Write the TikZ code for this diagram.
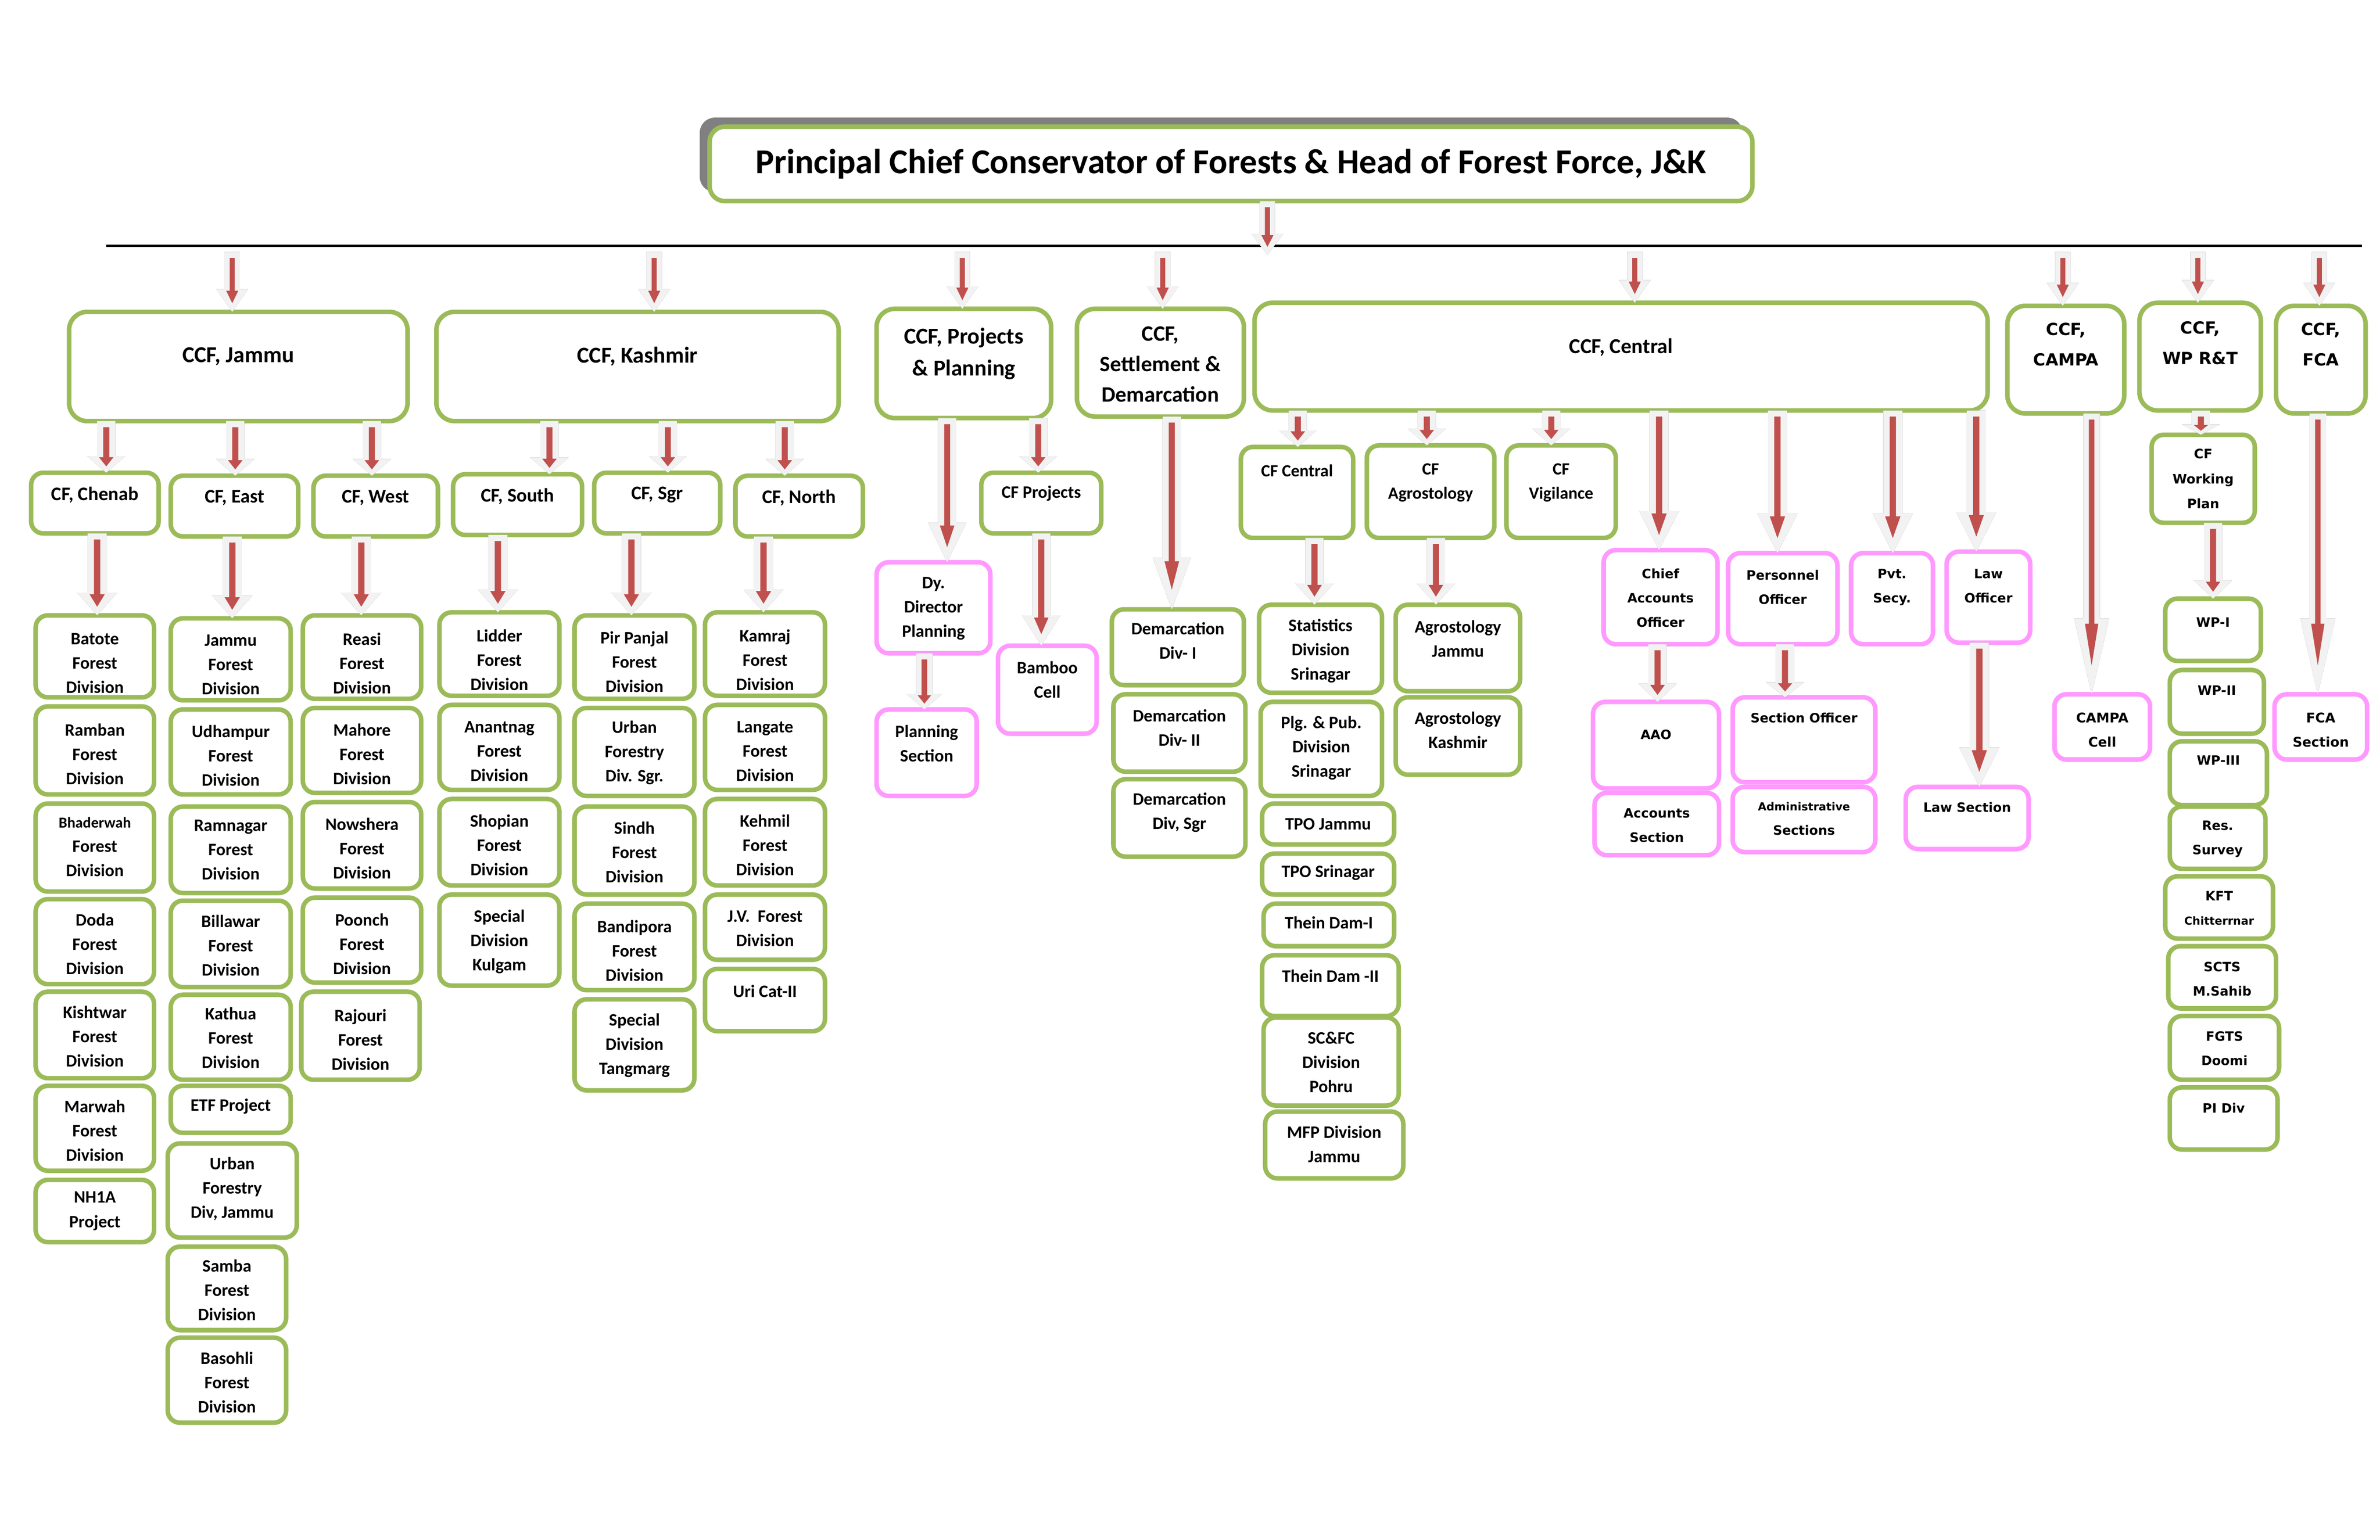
\documentclass[tikz,border=0pt]{standalone}
\usepackage{fontspec}
\setmainfont{Carlito}
\newfontfamily\vfont{DejaVu Sans}
\usetikzlibrary{calc,shadows}
\definecolor{grn}{HTML}{9BBB59}
\definecolor{pnk}{HTML}{FF99FF}
\definecolor{rdd}{HTML}{C0504D}
\definecolor{agr}{HTML}{F2F2F2}
\tikzset{
 gbx/.style={draw=grn, line width=3pt, rounded corners=8pt, fill=white, inner sep=0pt, outer sep=0pt},
 pbx/.style={gbx, draw=pnk},
 bigbx/.style={gbx, rounded corners=12pt},
 txc/.style={align=center, inner sep=0pt, font=\bfseries\fontsize{11.5}{16}\selectfont},
 txv/.style={align=center, inner sep=0pt, font=\vfont\bfseries\fontsize{8.5}{16}\selectfont},
 fs/.style 2 args={font=\bfseries\fontsize{#1}{#2}\selectfont},
 fv/.style 2 args={font=\vfont\bfseries\fontsize{#1}{#2}\selectfont},
 arsh/.style={fill=black!50},
 arbg/.style={fill=agr},
 arrd/.style={fill=rdd},
 hline/.style={line width=1.8pt, draw=black},
}
% #1 text options, #2 box style, #3 name, #4 x1, #5 y1, #6 x2, #7 y2, #8 text y, #9 text
\newcommand\Bx[9][]{%
 \node[#2, minimum width={#6-#4-3}, minimum height={#7-#5-3}] (#3) at ({(#4+#6)/2},{(#5+#7)/2}) {};%
 \node[txc,#1] (#3t) at ({(#4+#6)/2},#8) {#9};}
\newcommand\Bv[9][]{%
 \node[#2, minimum width={#6-#4-3}, minimum height={#7-#5-3}] (#3) at ({(#4+#6)/2},{(#5+#7)/2}) {};%
 \node[txv,#1] (#3t) at ({(#4+#6)/2},#8) {#9};}
% block arrow: #1 x, #2 from, #3 to, #4 shaft half width, #5 head length
\newcommand\Ar[5]{%
 \coordinate (aS) at (#2 -| #1,0);%
 \coordinate (aE) at (#3 -| #1,0);%
 \fill[arsh, xshift=1.2pt, yshift=-1.2pt] ($(aS)+(-#4,0)$) -- ($(aE)+(-#4,-#5)$) -- ($(aE)+(-2.1*#4,-#5)$) -- (aE) -- ($(aE)+(2.1*#4,-#5)$) -- ($(aE)+(#4,-#5)$) -- ($(aS)+(#4,0)$) -- cycle;%
 \fill[arbg] ($(aS)+(-#4,0)$) -- ($(aE)+(-#4,-#5)$) -- ($(aE)+(-2.1*#4,-#5)$) -- (aE) -- ($(aE)+(2.1*#4,-#5)$) -- ($(aE)+(#4,-#5)$) -- ($(aS)+(#4,0)$) -- cycle;%
 \fill[arrd] ($(aS)+(-0.33*#4,4)$) -- ($(aE)+(-0.33*#4,-0.93*#5)$) -- ($(aE)+(-0.8*#4,-0.93*#5)$) -- ($(aE)+(0,-0.38*#5)$) -- ($(aE)+(0.8*#4,-0.93*#5)$) -- ($(aE)+(0.33*#4,-0.93*#5)$) -- ($(aS)+(0.33*#4,4)$) -- cycle;%
}
\begin{document}
\begin{tikzpicture}[x=1pt,y=-1pt]
\useasboundingbox (0,0) rectangle (1568,1014.6);
% title
\node[gbx, rounded corners=10pt, minimum width=687, minimum height=49,
 general shadow={fill=gray, shadow xshift=-6.5pt, shadow yshift=6pt},
 font=\bfseries\fontsize{23}{28}\selectfont] (title) at (811,108)
 {Principal Chief Conservator of Forests \& Head of Forest Force, J\&K};
% horizontal line
\coordinate (hl) at (70,162);
\coordinate (hr) at (1556,162);
\draw[hline] (hl) -- (hr);
\coordinate (lt) at (835,168);
\coordinate (l1) at (153,166);
\coordinate (l2) at (431,166);
\coordinate (l3) at (634,166);
\coordinate (l4) at (766,166);
\coordinate (l5) at (1077,166);
\coordinate (l6) at (1359,166);
\coordinate (l7) at (1448,166);
\coordinate (l8) at (1528,166);

% level 1
\Bx[fs={15}{20}]{bigbx}{ccfj}{44}{204}{270}{279}{235}{CCF, Jammu}
\Bx[fs={15}{20}]{bigbx}{ccfk}{286}{204}{554}{279}{235}{CCF, Kashmir}
\Bx[fs={15}{21}]{bigbx}{ccfp}{576}{202}{694}{277}{233}{CCF, Projects\\\& Planning}
\Bx[fs={14.5}{20}]{bigbx}{ccfs}{708}{202}{821}{276}{240}{CCF,\\Settlement \&\\Demarcation}
\Bx[fs={14}{20}]{bigbx}{ccfc}{825}{198}{1311}{272}{229}{CCF, Central}
\Bv[fv={11}{20}]{bigbx}{ccfca}{1321}{200}{1401}{274}{227}{CCF,\\CAMPA}
\Bv[fv={11}{20}]{bigbx}{ccfw}{1408}{198}{1491}{272}{226}{CCF,\\WP R\&T}
\Bv[fv={11}{20}]{bigbx}{ccff}{1498}{200}{1560}{274}{227}{CCF,\\FCA}

% CF level
\Bx[fs={12.7}{16}]{gbx}{cfch}{19}{310}{106}{353}{326}{CF, Chenab}
\Bx[fs={12.7}{16}]{gbx}{cfe}{111}{312}{198}{355}{328}{CF, East}
\Bx[fs={12.7}{16}]{gbx}{cfw}{205}{312}{290}{355}{328}{CF, West}
\Bx[fs={12.7}{16}]{gbx}{cfs}{297}{311}{385}{354}{327}{CF, South}
\Bx[fs={12.7}{16}]{gbx}{cfsg}{390}{310}{476}{353}{326}{CF, Sgr}
\Bx[fs={12.7}{16}]{gbx}{cfn}{483}{312}{570}{355}{328}{CF, North}
\Bx{gbx}{cfp}{645}{310}{727}{353}{325}{CF Projects}
\Bx[fs={11.3}{16}]{gbx}{cfc}{816}{293}{893}{356}{310}{CF Central}
\Bx[fs={11.3}{16}]{gbx}{cfa}{899}{292}{986}{356}{318}{CF\\Agrostology}
\Bx[fs={11.3}{16}]{gbx}{cfv}{991}{292}{1066}{356}{318}{CF\\Vigilance}

% projects
\Bx{pbx}{dyd}{576}{369}{654}{432}{401}{Dy.\\Director\\Planning}
\Bx{pbx}{pls}{576}{466}{645}{526}{490}{Planning\\Section}
\Bx{pbx}{bam}{656}{424}{724}{485}{448}{Bamboo\\Cell}

% demarcation
\Bx{gbx}{dm1}{731}{400}{821}{453}{422}{Demarcation\\Div- I}
\Bx{gbx}{dm2}{732}{456}{822}{510}{479.5}{Demarcation\\Div- II}
\Bx{gbx}{dm3}{732}{512}{822}{566}{535.5}{Demarcation\\Div, Sgr}

% CF central column
\Bx{gbx}{st}{828}{397}{912}{458}{429}{Statistics\\Division\\Srinagar}
\Bx{gbx}{plg}{829}{461}{912}{526}{493}{Plg. \& Pub.\\Division\\Srinagar}
\Bx{gbx}{tpj}{830}{528}{920}{558}{543}{TPO Jammu}
\Bx{gbx}{tps}{830}{561}{920}{591}{575}{TPO Srinagar}
\Bx{gbx}{td1}{831}{594}{920}{625}{608}{Thein Dam-I}
\Bx{gbx}{td2}{830}{628}{923}{671}{643}{Thein Dam -II}
\Bx{gbx}{scf}{831}{669}{923}{730}{700}{SC\&FC\\Division\\Pohru}
\Bx{gbx}{mfp}{832}{731}{926}{778}{754}{MFP Division\\Jammu}

% agrostology
\Bx{gbx}{agj}{918}{397}{1003}{457}{421}{Agrostology\\Jammu}
\Bx{gbx}{agk}{918}{458}{1003}{512}{481}{Agrostology\\Kashmir}

% central officers
\Bv{pbx}{cao}{1055}{361}{1133}{426}{394}{Chief\\Accounts\\Officer}
\Bv{pbx}{per}{1137}{363}{1212}{426}{387}{Personnel\\Officer}
\Bv{pbx}{pvt}{1218}{363}{1275}{426}{387}{Pvt.\\Secy.}
\Bv{pbx}{lawo}{1281}{362}{1339}{425}{386}{Law\\Officer}
\Bv{pbx}{aao}{1048}{461}{1134}{521}{484}{AAO}
\Bv{pbx}{accs}{1049}{521}{1134}{565}{544}{Accounts\\Section}
\Bv{pbx}{so}{1140}{458}{1237}{517}{473}{Section Officer}
\Bv{pbx}{adm}{1140}{517}{1237}{563}{539.5}{{\fontsize{7.3}{15}\selectfont Administrative}\\Sections}
\Bv{pbx}{laws}{1254}{517}{1338}{561}{532}{Law Section}
\Bv[fv={8.8}{16}]{pbx}{cc}{1352}{456}{1418}{502}{481}{CAMPA\\Cell}
\Bv[fv={8.8}{16}]{pbx}{fcas}{1497}{456}{1561}{502}{481}{FCA\\Section}

% WP column
\Bv[fv={8.6}{16.5}]{gbx}{cfwp}{1416}{285}{1487}{346}{315.5}{CF\\Working\\Plan}
\Bv{gbx}{wp1}{1425}{393}{1491}{437}{410}{WP-I}
\Bv{gbx}{wp2}{1428}{440}{1493}{485}{455}{WP-II}
\Bv{gbx}{wp3}{1428}{487}{1495}{532}{501}{WP-III}
\Bv{gbx}{res}{1428}{530}{1494}{574}{553}{Res.\\Survey}
\Bv{gbx}{kft}{1425}{576}{1499}{620}{598.5}{KFT\\{\fontsize{7.3}{15}\selectfont Chitterrnar}}
\Bv{gbx}{scts}{1427}{622}{1501}{666}{645}{SCTS\\M.Sahib}
\Bv{gbx}{fgts}{1428}{668}{1503}{713}{691}{FGTS\\Doomi}
\Bv{gbx}{pid}{1428}{715}{1502}{759}{730}{PI Div}

% Chenab column
\Bx{gbx}{bat}{22}{404}{103}{461}{437}{Batote\\Forest\\Division}
\Bx{gbx}{ram}{22}{464}{103}{525}{497}{Ramban\\Forest\\Division}
\Bx{gbx}{bha}{22}{528}{103}{589}{558}{{\fontsize{10}{16}\selectfont Bhaderwah}\\Forest\\Division}
\Bx{gbx}{dod}{22}{591}{103}{650}{622}{Doda\\Forest\\Division}
\Bx{gbx}{kis}{22}{652}{103}{712}{683}{Kishtwar\\Forest\\Division}
\Bx{gbx}{mar}{22}{714}{103}{773}{745}{Marwah\\Forest\\Division}
\Bx{gbx}{nh}{22}{776}{103}{820}{798}{NH1A\\Project}

% East column
\Bx{gbx}{jmf}{111}{406}{193}{463}{438}{Jammu\\Forest\\Division}
\Bx{gbx}{udh}{111}{466}{193}{525}{498}{Udhampur\\Forest\\Division}
\Bx{gbx}{rmn}{111}{530}{193}{590}{560}{Ramnagar\\Forest\\Division}
\Bx{gbx}{bil}{111}{592}{193}{652}{623}{Billawar\\Forest\\Division}
\Bx{gbx}{kat}{111}{654}{193}{713}{684}{Kathua\\Forest\\Division}
\Bx{gbx}{etf}{111}{714}{193}{748}{729}{ETF Project}
\Bx{gbx}{ufj}{109}{752}{197}{817}{783.5}{Urban\\Forestry\\Div, Jammu}
\Bx{gbx}{sam}{109}{820}{190}{878}{850}{Samba\\Forest\\Division}
\Bx{gbx}{bas}{109}{880}{190}{939}{911}{Basohli\\Forest\\Division}

% West column
\Bx{gbx}{rea}{198}{404}{279}{462}{437}{Reasi\\Forest\\Division}
\Bx{gbx}{mah}{198}{465}{279}{524}{497}{Mahore\\Forest\\Division}
\Bx{gbx}{now}{198}{527}{279}{587}{559}{Nowshera\\Forest\\Division}
\Bx{gbx}{poo}{198}{590}{279}{649}{622}{Poonch\\Forest\\Division}
\Bx{gbx}{raj}{197}{652}{278}{713}{685}{Rajouri\\Forest\\Division}

% South column
\Bx{gbx}{lid}{288}{402}{370}{460}{435}{Lidder\\Forest\\Division}
\Bx{gbx}{ana}{288}{463}{370}{522}{495}{Anantnag\\Forest\\Division}
\Bx{gbx}{sho}{288}{525}{370}{585}{557}{Shopian\\Forest\\Division}
\Bx{gbx}{kul}{288}{588}{370}{651}{620.5}{Special\\Division\\Kulgam}

% Sgr column
\Bx{gbx}{pir}{377}{404}{459}{462}{436}{Pir Panjal\\Forest\\Division}
\Bx{gbx}{ufs}{377}{465}{459}{526}{496}{Urban\\Forestry\\Div. Sgr.}
\Bx{gbx}{sin}{377}{530}{459}{591}{561.5}{Sindh\\Forest\\Division}
\Bx{gbx}{ban}{377}{594}{459}{654}{626.5}{Bandipora\\Forest\\Division}
\Bx{gbx}{tan}{377}{657}{459}{720}{689}{Special\\Division\\Tangmarg}

% North column
\Bx{gbx}{kam}{463}{402}{545}{460}{435}{Kamraj\\Forest\\Division}
\Bx{gbx}{lan}{463}{463}{545}{522}{495}{Langate\\Forest\\Division}
\Bx{gbx}{keh}{463}{525}{545}{585}{557}{Kehmil\\Forest\\Division}
\Bx{gbx}{jv}{463}{588}{545}{634}{612}{J.V.\ \ Forest\\Division}
\Bx{gbx}{uri}{463}{637}{545}{681}{653}{Uri Cat-II}

% arrows
\Ar{835}{title.south}{lt}{5}{14}
\Ar{153}{l1}{ccfj.north}{5}{15}
\Ar{431}{l2}{ccfk.north}{5}{15}
\Ar{634}{l3}{ccfp.north}{5}{15}
\Ar{766}{l4}{ccfs.north}{5}{15}
\Ar{1077}{l5}{ccfc.north}{5}{15}
\Ar{1359}{l6}{ccfca.north}{5}{15}
\Ar{1448}{l7}{ccfw.north}{5}{15}
\Ar{1528}{l8}{ccff.north}{5}{15}
\Ar{70}{ccfj.south}{cfch.north}{6}{11}
\Ar{155}{ccfj.south}{cfe.north}{6}{11}
\Ar{245}{ccfj.south}{cfw.north}{6}{11}
\Ar{362}{ccfk.south}{cfs.north}{6}{11}
\Ar{440}{ccfk.south}{cfsg.north}{6}{11}
\Ar{517}{ccfk.south}{cfn.north}{6}{11}
\Ar{64}{cfch.south}{bat.north}{6.3}{15}
\Ar{153}{cfe.south}{jmf.north}{6.3}{15}
\Ar{238}{cfw.south}{rea.north}{6.3}{15}
\Ar{328}{cfs.south}{lid.north}{6.3}{15}
\Ar{416}{cfsg.south}{pir.north}{6.3}{15}
\Ar{503}{cfn.south}{kam.north}{6.3}{15}
\Ar{624}{ccfp.south}{dyd.north}{6}{26}
\Ar{684}{ccfp.south}{cfp.north}{6}{11}
\Ar{609}{dyd.south}{pls.north}{5.5}{10}
\Ar{686}{cfp.south}{bam.north}{6}{20}
\Ar{772}{ccfs.south}{dm1.north}{6}{34}
\Ar{855}{ccfc.south}{cfc.north}{6}{11}
\Ar{940}{ccfc.south}{cfa.north}{6}{11}
\Ar{1022}{ccfc.south}{cfv.north}{6}{11}
\Ar{1093}{ccfc.south}{cao.north}{6.3}{26}
\Ar{1171}{ccfc.south}{per.north}{6.3}{26}
\Ar{1247}{ccfc.south}{pvt.north}{6.3}{26}
\Ar{1302}{ccfc.south}{lawo.north}{6.3}{26}
\Ar{866}{cfc.south}{st.north}{6}{14}
\Ar{946}{cfa.south}{agj.north}{6}{14}
\Ar{1092}{cao.south}{aao.north}{6}{12}
\Ar{1176}{per.south}{so.north}{6}{10}
\Ar{1304}{lawo.south}{laws.north}{6.3}{26}
\Ar{1378}{ccfca.south}{cc.north}{5.5}{50}
\Ar{1450}{ccfw.south}{cfwp.north}{6}{7}
\Ar{1458}{cfwp.south}{wp1.north}{6}{12}
\Ar{1527}{ccff.south}{fcas.north}{5.5}{50}
\end{tikzpicture}
\end{document}
